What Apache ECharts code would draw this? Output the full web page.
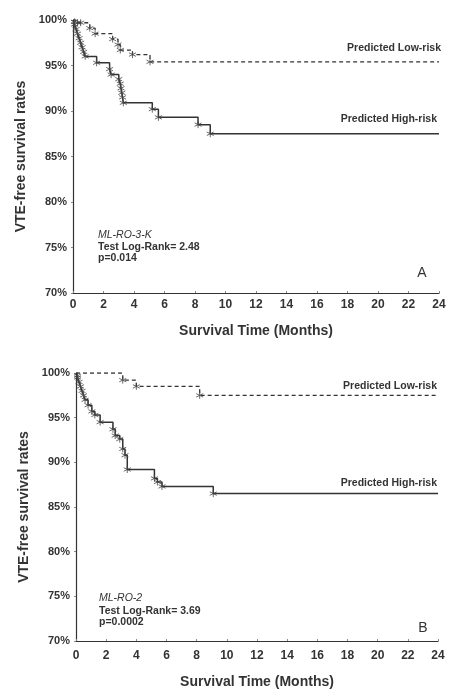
<!DOCTYPE html>
<html>
<head>
<meta charset="utf-8">
<script src="https://cdn.jsdelivr.net/npm/echarts@6/dist/echarts.min.js"></script>
<style>
html,body{margin:0;padding:0;background:#fff;}
#chart{width:450px;height:690px;}
</style>
</head>
<body>
<div id="chart"></div>
<script>
// ---- Data (time in months, survival in %) ----
const xMin = 0, xMax = 24, xStep = 2;
const yMin = 70, yMax = 100, yStep = 5;

// Panel A: ML-RO-3-K
const aLowSteps = [[0,100],[0.2,99.7],[1.1,99.1],[1.45,98.5],[2.6,97.9],[2.95,97.3],[3.1,96.7],[3.9,96.2],[5.05,95.4],[24,95.4]];
const aLowCensor = [[0.1,99.8],[0.3,99.7],[0.5,99.7],[1.1,99.1],[1.45,98.5],[2.6,97.9],[2.95,97.3],[3.1,96.7],[3.9,96.2],[5.05,95.4]];
const aHighSteps = [[0,100],[0.1,99.5],[0.2,99.0],[0.3,98.5],[0.4,98.0],[0.5,97.5],[0.6,97.0],[0.7,96.5],[0.8,96.0],[1.55,95.3],[2.4,94.6],[2.5,94.0],[3.0,93.5],[3.1,93.0],[3.15,92.5],[3.2,92.0],[3.25,91.5],[3.3,90.9],[5.2,90.2],[5.6,89.3],[8.2,88.5],[9.0,87.5],[24,87.5]];
const aHighCensor = [[0.1,99.5],[0.2,99.0],[0.3,98.5],[0.4,98.0],[0.5,97.5],[0.6,97.0],[0.7,96.5],[0.8,96.0],[1.55,95.3],[2.4,94.6],[2.5,94.0],[3.0,93.5],[3.1,93.0],[3.15,92.5],[3.2,92.0],[3.25,91.5],[3.3,90.9],[5.2,90.2],[5.6,89.3],[8.2,88.5],[9.0,87.5]];

// Panel B: ML-RO-2
const bLowSteps = [[0,100],[3.1,99.2],[4.0,98.5],[8.2,97.5],[24,97.5]];
const bLowCensor = [[0.1,99.7],[3.1,99.2],[4.0,98.5],[8.2,97.5]];
const bHighSteps = [[0,100],[0.1,99.5],[0.2,99.0],[0.3,98.5],[0.4,98.0],[0.5,97.5],[0.6,97.0],[0.8,96.4],[1.05,95.7],[1.25,95.3],[1.6,94.5],[2.45,93.7],[2.6,93.0],[2.9,92.6],[3.1,91.5],[3.25,90.8],[3.4,89.2],[5.2,88.2],[5.4,87.8],[5.7,87.3],[9.1,86.5],[24,86.5]];
const bHighCensor = [[0.1,99.5],[0.2,99.0],[0.3,98.5],[0.4,98.0],[0.5,97.5],[0.6,97.0],[0.8,96.4],[1.05,95.7],[1.25,95.3],[1.6,94.5],[2.45,93.7],[2.6,93.0],[2.9,92.6],[3.1,91.5],[3.25,90.8],[3.4,89.2],[5.2,88.2],[5.4,87.8],[5.7,87.3],[9.1,86.5]];

const xAxisName = 'Survival Time (Months)';
const yAxisName = 'VTE-free survival rates';
const lowLabel = 'Predicted Low-risk';
const highLabel = 'Predicted High-risk';
const panelA = {name:'ML-RO-3-K', test:'Test Log-Rank= 2.48', p:'p=0.014', tag:'A'};
const panelB = {name:'ML-RO-2', test:'Test Log-Rank= 3.69', p:'p=0.0002', tag:'B'};

// ---- Chart ----
const FONT = '"Liberation Sans", Arial, sans-serif';
const INK = '#333';
const star = 'path://M0,-5L0,5M-4.33,-2.5L4.33,2.5M-4.33,2.5L4.33,-2.5';

function xAx(i, gap, margin){
  return {
    type:'value', gridIndex:i, min:xMin, max:xMax, interval:xStep,
    name:xAxisName, nameLocation:'middle', nameGap:gap,
    nameTextStyle:{fontFamily:FONT, fontSize:14, fontWeight:'bold', color:INK},
    axisLine:{lineStyle:{color:INK, width:1.2}},
    axisTick:{inside:true, length:2, lineStyle:{color:'#888'}},
    axisLabel:{fontFamily:FONT, fontSize:12, fontWeight:'bold', color:INK, margin:margin},
    splitLine:{show:false}
  };
}
function yAx(i){
  return {
    type:'value', gridIndex:i, min:yMin, max:yMax, interval:yStep,
    name:yAxisName, nameLocation:'middle', nameGap:44, nameRotate:90,
    nameTextStyle:{fontFamily:FONT, fontSize:14, fontWeight:'bold', color:INK},
    axisLine:{show:true, lineStyle:{color:INK, width:1.2}},
    axisTick:{show:true, length:2, lineStyle:{color:'#888'}},
    axisLabel:{fontFamily:FONT, fontSize:11, fontWeight:'bold', color:INK, margin:6, formatter:'{value}%'},
    splitLine:{show:false}
  };
}
function lineS(i, data, dashed){
  return {type:'line', xAxisIndex:i, yAxisIndex:i, data:data, step:'end', showSymbol:false, symbol:'none',
    lineStyle:{color:INK, width:dashed?1.3:1.5, type:dashed?[4,3]:'solid'}, z:2, silent:true};
}
function censS(i, data){
  return {type:'scatter', xAxisIndex:i, yAxisIndex:i, data:data, symbol:star, symbolSize:7,
    itemStyle:{color:'none', borderColor:'#444', borderWidth:1}, z:3, silent:true};
}
function txt(x, y, s, opt){
  return {type:'text', x:x, y:y, style:Object.assign({text:s, fontFamily:FONT, fontSize:10.5, fontWeight:'bold', fill:INK, textVerticalAlign:'middle'}, opt||{})};
}

const chart = echarts.init(document.getElementById('chart'), null, {renderer:'canvas'});
chart.setOption({
  animation:false,
  backgroundColor:'#fff',
  grid:[
    {left:73, top:20, width:366, height:273},
    {left:76, top:373, width:362, height:273}
  ],
  xAxis:[xAx(0, 31, 6), xAx(1, 34, 9)],
  yAxis:[yAx(0), yAx(1)],
  series:[
    lineS(0, aLowSteps, true), lineS(0, aHighSteps, false),
    censS(0, aLowCensor), censS(0, aHighCensor),
    lineS(1, bLowSteps, true), lineS(1, bHighSteps, false),
    censS(1, bLowCensor), censS(1, bHighCensor)
  ],
  graphic:[
    txt(441, 48, lowLabel, {textAlign:'right'}),
    txt(437, 119, highLabel, {textAlign:'right'}),
    txt(98, 235, panelA.name, {fontStyle:'italic', fontWeight:'normal'}),
    txt(98, 247, panelA.test),
    txt(98, 258, panelA.p),
    txt(422, 273, panelA.tag, {fontSize:14, fontWeight:'normal', textAlign:'center'}),
    txt(437, 386, lowLabel, {textAlign:'right'}),
    txt(437, 483, highLabel, {textAlign:'right'}),
    txt(99, 598, panelB.name, {fontStyle:'italic', fontWeight:'normal'}),
    txt(99, 611, panelB.test),
    txt(99, 622, panelB.p),
    txt(423, 628, panelB.tag, {fontSize:14, fontWeight:'normal', textAlign:'center'})
  ]
});
</script>
</body>
</html>
